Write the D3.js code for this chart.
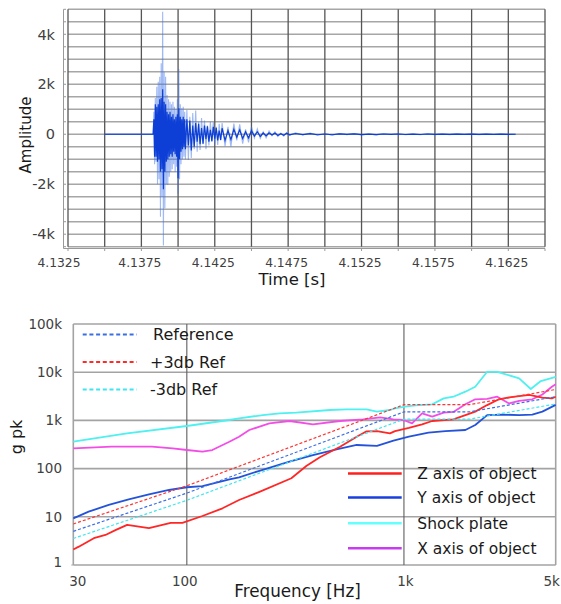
<!DOCTYPE html>
<html><head><meta charset="utf-8">
<script src="https://cdn.jsdelivr.net/npm/d3@7"></script>
<style>body{margin:0;background:#fff}svg{display:block}text{font-family:"DejaVu Sans",Verdana,sans-serif}</style>
</head><body><svg id="c" width="561" height="604"></svg>
<script>
// ---------- Top chart data (time waveform) ----------
const sigTime = [4.135,4.1383,
4.13835,4.1384,4.13845,4.1385,4.13855,4.1386,4.13865,4.1387,4.13875,4.1388,4.13885,4.1389,4.13895,4.139,4.13905,4.1391,4.13915,4.1392,4.13925,4.1393,4.13935,4.1394,4.13945,4.1395,4.13955,4.1396,4.13965,4.1397,4.13975,4.1398,4.13985,4.1399,4.13995,4.14,4.14005,4.1401,4.14015,4.1402,4.14025,4.1403,4.14035,4.1404,4.14045,4.1405,
4.1406,4.1407,4.1408,4.1409,4.141,4.1411,4.1412,4.1413,4.1414,4.1415,4.1416,4.1417,4.1418,4.1419,4.142,4.1421,4.1422,4.1423,4.1424,4.1425,4.1426,4.1427,4.1428,4.1429,4.143,
4.1432,4.1434,4.1436,4.1438,4.144,4.1442,4.1444,4.1446,4.1448,4.145,4.1452,4.1454,4.1456,4.1458,4.146,4.1462,4.1464,4.1466,4.1468,4.147,4.1472,4.1474,4.1476,
4.148,4.1485,4.149,4.1495,4.15,4.1505,4.151,4.1515,4.152,4.1525,4.153,4.1535,4.154,4.1545,4.155,4.1555,4.156,4.1565,4.157,4.1575,4.158,4.1585,4.159,4.1595,4.16,4.1605,4.161,4.1615,4.162,4.1625,4.163];
const rawAmplitude = [0,0,
900,-1200,1450,-1100,1900,-2000,2100,-1800,2300,-3300,2840,-2500,4900,-4450,2500,-2960,2300,-2000,1570,-2030,1400,-1700,1300,-1500,1200,-1400,1300,-1200,1100,-1500,1000,-1300,1400,-2380,2610,-1800,1200,-1200,1040,-1000,1100,-900,900,-1000,
970,-1030,700,-950,850,-600,950,-700,500,-630,650,-400,550,-600,350,-450,500,-300,480,-420,300,-430,420,-250,450,
-480,300,-500,430,-250,400,-380,200,-330,300,-150,220,-170,100,-150,130,-60,100,-90,50,-80,70,-40,
60,-30,50,-40,20,-35,30,-15,30,-25,10,-25,20,-10,20,-20,8,-20,20,-15,8,-15,15,-5,15,-15,8,-10,10,-5,0];
const coreAmplitude = [0,0,
600,-900,1200,-900,1100,-1100,1200,-1000,1400,-1500,1450,-1400,1800,-2200,1300,-1500,1200,-1100,900,-1000,800,-900,900,-800,700,-900,800,-700,600,-800,700,-900,800,-1760,1040,-1000,700,-700,600,-600,700,-500,600,-600,
600,-450,550,-650,350,-500,450,-300,420,-400,250,-380,350,-200,320,-300,180,-280,300,-180,260,-250,150,-230,240,
-250,150,-220,200,-120,180,-170,100,-150,140,-70,100,-90,50,-70,60,-30,50,-50,25,-40,40,-20,
30,-15,25,-20,10,-20,15,-8,15,-12,5,-12,10,-5,10,-10,4,-10,10,-8,4,-8,8,-3,8,-8,4,-5,5,-3,0];
const timeTickLabels = ["4.1325","4.1375","4.1425","4.1475","4.1525","4.1575","4.1625"];
const ampTicks = [-4000,-2000,0,2000,4000];
const ampTickLabels = ["-4k","-2k","0","2k","4k"];

// ---------- Bottom chart data (shock response spectrum) ----------
const refFreq = [30,100,1000,2000,5000];
const referenceValues = [5,31,1500,1500,3100];
const plus3dbValues = [7.1,44,2120,2120,4380];
const minus3dbValues = [3.55,22,1060,1060,2190];

const zFreq = [30,31.8,37.3,42.2,46.9,53.1,66.9,84.3,95.4,118,146,174,216,303,355,410,508,606,673,751,862,910,1054,1212,1350,1690,2130,2417,2736,3050,3780,4340,4800,5000];
const zValues = [2.1,2.4,3.6,4.2,5.3,6.8,5.8,7.5,7.5,10.4,15,22.3,33,63,113,172,285,459,594,600,540,600,700,830,972,1054,1520,2080,2740,3000,3370,2960,2870,3100];
const yFreq = [30,35.3,43.7,54,66.9,82.8,100,118,146,157,174,216,297,381,489,606,751,895,1054,1297,1553,1918,2130,2417,2840,3393,3900,4340,5000];
const yValues = [9.3,12.8,17.6,23,29.3,36,41,43.5,55,60,66,90,139,191,251,309,295,379,459,556,600,632,804,1290,1320,1290,1320,1520,2100];
const shockFreq = [30,53,100,157,174,224,267,319,456,544,627,673,751,862,910,1012,1130,1350,1525,1690,1918,2130,2417,2690,3393,3840,4270,5000];
const shockValues = [361,540,765,1020,1100,1290,1400,1445,1643,1700,1700,1700,1520,1643,1783,1930,2050,2160,2870,3100,3940,5000,10200,10200,7470,4480,6560,8000];
const xFreq = [30,45,69,86,100,118,131,157,174,194,240,297,381,508,649,777,895,996,1090,1212,1350,1525,1690,1918,2130,2417,2690,3050,3393,3900,4340,4800,5000];
const xValues = [264,285,285,264,243,224,243,360,459,632,870,972,830,972,1054,1160,1054,1020,870,1400,1200,1450,1500,2160,2740,2800,3100,2250,2540,2740,3440,5000,5600];
const freqTicks = [30,100,1000,5000];
const freqTickLabels = ["30","100","1k","5k"];
const gTicks = [1,10,100,1000,10000,100000];
const gTickLabels = ["1","10","100","1k","10k","100k"];

const svg = d3.select("#c");

// ================= TOP CHART =================
const xT = d3.scaleLinear().domain([4.1325, 4.165]).range([68, 545]);
const yT = d3.scaleLinear().domain([-4500, 5000]).range([246.7, 9.3]);
const topG = svg.append("g");
topG.append("g").selectAll("line").data(d3.range(-4500, 5001, 500)).join("line")
  .attr("x1", xT(4.1325)).attr("x2", xT(4.165)).attr("y1", d => yT(d)).attr("y2", d => yT(d))
  .attr("stroke", "#a6a6a6").attr("stroke-width", 1.6);
const vgrid = d3.range(0, 14).map(i => 4.1325 + i * 0.0025);
topG.append("g").selectAll("line").data(vgrid).join("line")
  .attr("x1", d => xT(d)).attr("x2", d => xT(d)).attr("y1", yT(5000)).attr("y2", yT(-4500))
  .attr("stroke", "#555").attr("stroke-width", 1.3);
topG.append("line").attr("x1", 63.5).attr("x2", 63.5).attr("y1", yT(5000)).attr("y2", 248.5).attr("stroke", "#999").attr("stroke-width", 1);
topG.append("g").selectAll("line").data(d3.range(-4500, 5001, 500)).join("line")
  .attr("x1", 63.5).attr("x2", 66).attr("y1", d => yT(d)).attr("y2", d => yT(d)).attr("stroke", "#999");
topG.append("line").attr("x1", 63.5).attr("x2", xT(4.165)).attr("y1", 248.5).attr("y2", 248.5).attr("stroke", "#999").attr("stroke-width", 1);
topG.append("g").selectAll("line").data(vgrid).join("line")
  .attr("x1", d => xT(d)).attr("x2", d => xT(d)).attr("y1", 248.5).attr("y2", 251).attr("stroke", "#999");

const sig = sigTime.map((t, i) => ({t, raw: rawAmplitude[i], core: coreAmplitude[i]}));
const lineRaw = d3.line().x(d => xT(d.t)).y(d => yT(d.raw));
const lineCore = d3.line().x(d => xT(d.t)).y(d => yT(d.core));
topG.append("path").attr("d", lineRaw(sig)).attr("fill", "none").attr("stroke", "#3f73ea").attr("stroke-opacity", 0.5).attr("stroke-width", 1.1);
topG.append("path").attr("d", lineCore(sig)).attr("fill", "none").attr("stroke", "#0d3fd6").attr("stroke-width", 1.2);

topG.append("g").selectAll("text").data(timeTickLabels).join("text")
  .attr("x", (d, i) => xT(+d) + (i === 0 ? -9 : -1.5)).attr("y", 266.5)
  .attr("text-anchor", "middle").attr("font-size", 12.3).attr("fill", "#404040").text(d => d);
topG.append("g").selectAll("text").data(ampTicks).join("text")
  .attr("x", 55).attr("y", d => yT(d)).attr("dy", "0.36em")
  .attr("text-anchor", "end").attr("font-size", 14.5).attr("fill", "#404040").text((d, i) => ampTickLabels[i]);
topG.append("text").attr("x", 292).attr("y", 285).attr("text-anchor", "middle").attr("font-size", 16.5).attr("fill", "#1a1a1a").text("Time [s]");
topG.append("text").attr("transform", "translate(31,135) rotate(-90)").attr("text-anchor", "middle").attr("font-size", 15).attr("fill", "#1a1a1a").text("Amplitude");

// ================= BOTTOM CHART =================
const xB = d3.scaleLog().domain([30, 5000]).range([73.3, 555.7]);
const yB = d3.scaleLog().domain([1, 100000]).range([565, 324]);
const bot = svg.append("g");
bot.append("g").selectAll("line").data(gTicks).join("line")
  .attr("x1", xB(30)).attr("x2", xB(5000)).attr("y1", d => yB(d)).attr("y2", d => yB(d))
  .attr("stroke", "#a3a3a3").attr("stroke-width", 1.6);
bot.append("g").selectAll("line").data([100, 1000]).join("line")
  .attr("x1", d => xB(d)).attr("x2", d => xB(d)).attr("y1", yB(100000)).attr("y2", yB(1))
  .attr("stroke", "#5e5e5e").attr("stroke-width", 1.1);
bot.append("line").attr("x1", xB(5000)).attr("x2", xB(5000)).attr("y1", yB(100000)).attr("y2", yB(1)).attr("stroke", "#a3a3a3").attr("stroke-width", 1.6);
bot.append("line").attr("x1", xB(30)).attr("x2", xB(30)).attr("y1", yB(100000)).attr("y2", yB(1)).attr("stroke", "#a3a3a3").attr("stroke-width", 1.6);
bot.append("line").attr("x1", xB(30) - 2).attr("x2", xB(30)).attr("y1", yB(1)).attr("y2", yB(1)).attr("stroke", "#a3a3a3");

function curve(freqs, vals) { return freqs.map((f, i) => [f, vals[i]]); }
const lineB = d3.line().x(d => xB(d[0])).y(d => yB(d[1]));

const dashed = [
  {vals: plus3dbValues, color: "#ff3535"},
  {vals: referenceValues, color: "#3a6ee6"},
  {vals: minus3dbValues, color: "#3fe6f0"}
];
const solid = [
  {f: shockFreq, v: shockValues, color: "#4ef0f0"},
  {f: xFreq, v: xValues, color: "#f24ee6"},
  {f: yFreq, v: yValues, color: "#2453da"},
  {f: zFreq, v: zValues, color: "#ff2626"}
];
bot.append("g").selectAll("path").data(solid).join("path")
  .attr("d", d => lineB(curve(d.f, d.v))).attr("fill", "none").attr("stroke", d => d.color).attr("stroke-width", 1.8)
  .attr("stroke-linejoin", "round");
bot.append("g").selectAll("path").data(dashed).join("path")
  .attr("d", d => lineB(curve(refFreq, d.vals))).attr("fill", "none").attr("stroke", d => d.color)
  .attr("stroke-width", 1.2).attr("stroke-dasharray", "3,2");

bot.append("g").selectAll("text").data(freqTicks).join("text")
  .attr("x", (d, i) => xB(d) + [4.5, -2, 1.5, -4][i]).attr("y", 585.5)
  .attr("text-anchor", "middle").attr("font-size", 13.5).attr("fill", "#404040").text((d, i) => freqTickLabels[i]);
bot.append("g").selectAll("text").data(gTicks).join("text")
  .attr("x", 62).attr("y", (d, i) => yB(d) + (i === 0 ? -3 : 0)).attr("dy", "0.36em")
  .attr("text-anchor", "end").attr("font-size", 13.5).attr("fill", "#404040").text((d, i) => gTickLabels[i]);
bot.append("text").attr("x", 297.5).attr("y", 597).attr("text-anchor", "middle").attr("font-size", 16.8).attr("fill", "#1a1a1a").text("Frequency [Hz]");
bot.append("text").attr("transform", "translate(22,437) rotate(-90)").attr("text-anchor", "middle").attr("font-size", 16).attr("fill", "#1a1a1a").text("g pk");

const legTop = [
  {label: "Reference", color: "#3a6ee6", y: 334.5, x: 153},
  {label: "+3db Ref", color: "#ff2a2a", y: 362, x: 150},
  {label: "-3db Ref", color: "#3fe6f0", y: 389.5, x: 150}
];
const lt = bot.append("g");
lt.selectAll("line").data(legTop).join("line")
  .attr("x1", 82.7).attr("x2", 136.7).attr("y1", d => d.y).attr("y2", d => d.y)
  .attr("stroke", d => d.color).attr("stroke-width", 2.2).attr("stroke-dasharray", "4,2.7");
lt.selectAll("text").data(legTop).join("text")
  .attr("x", d => d.x).attr("y", d => d.y).attr("dy", "0.36em").attr("font-size", 16).attr("fill", "#1a1a1a").text(d => d.label);

const legBot = [
  {label: "Z axis of object", color: "#ff1f1f", y: 473.5},
  {label: "Y axis of object", color: "#1a3fe0", y: 497.5},
  {label: "Shock plate", color: "#66ffff", y: 523.3},
  {label: "X axis of object", color: "#c83cf0", y: 548.3}
];
const lb = bot.append("g");
lb.selectAll("line").data(legBot).join("line")
  .attr("x1", 348).attr("x2", 401.7).attr("y1", d => d.y).attr("y2", d => d.y)
  .attr("stroke", d => d.color).attr("stroke-width", 2.6);
lb.selectAll("text").data(legBot).join("text")
  .attr("x", 417.3).attr("y", d => d.y).attr("dy", "0.36em").attr("font-size", 15.5).attr("fill", "#1a1a1a").text(d => d.label);
</script></body></html>
